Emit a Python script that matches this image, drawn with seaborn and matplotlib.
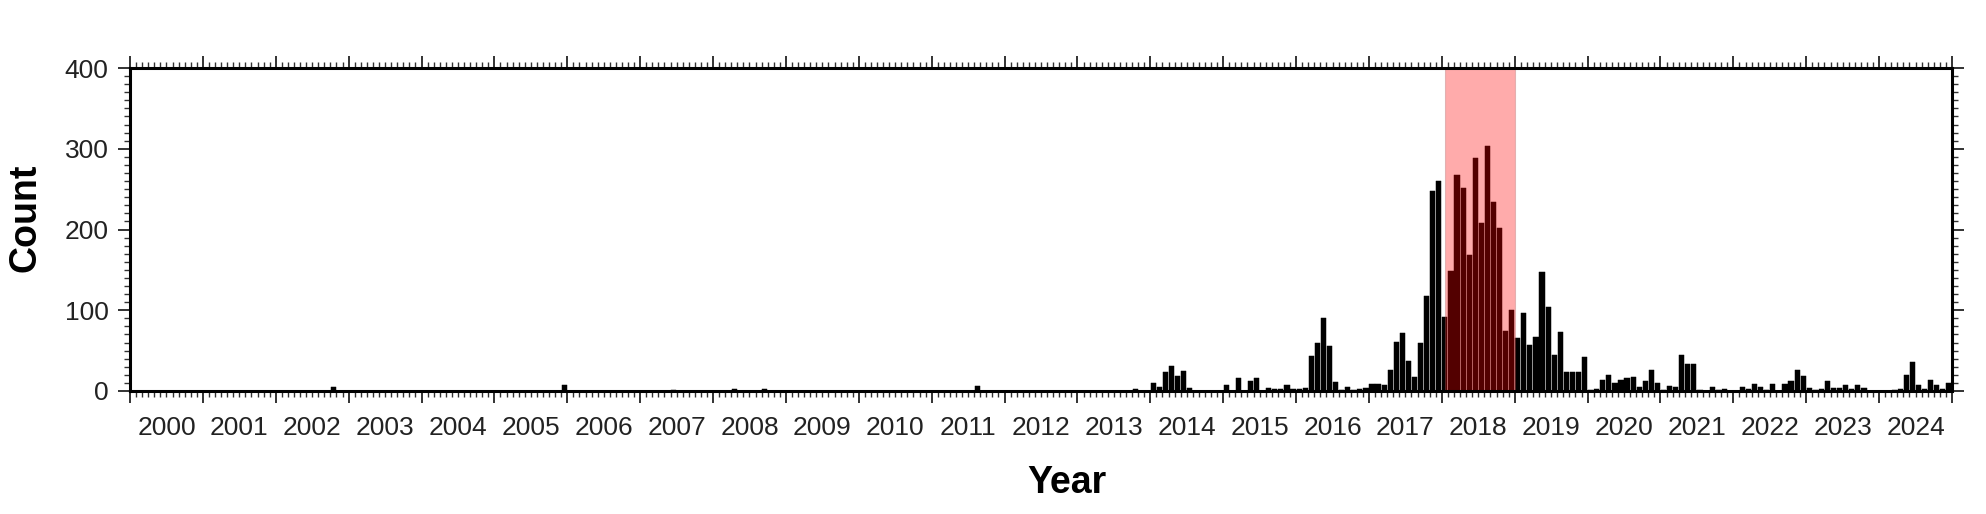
import numpy as np
import pandas as pd
import matplotlib
matplotlib.use("Agg")
import matplotlib.pyplot as plt
from matplotlib.ticker import MultipleLocator, NullLocator
import seaborn as sns

# ---------------- data: monthly counts (Jan..Dec) ----------------
years = list(range(2000, 2025))
c2000 = [0, 0, 0, 0, 0, 0, 0, 0, 0, 0, 0, 0]
c2001 = [0, 0, 0, 0, 0, 0, 0, 0, 0, 0, 0, 0]
c2002 = [0, 0, 0, 0, 0, 0, 0, 0, 0, 5, 0, 0]
c2003 = [0, 0, 0, 0, 0, 0, 0, 0, 0, 0, 0, 0]
c2004 = [0, 0, 0, 0, 0, 0, 0, 0, 0, 0, 0, 0]
c2005 = [0, 0, 0, 0, 0, 0, 0, 0, 0, 0, 0, 8]
c2006 = [0, 0, 0, 0, 0, 0, 0, 0, 0, 0, 0, 0]
c2007 = [0, 0, 0, 0, 0, 1, 0, 0, 0, 0, 0, 0]
c2008 = [0, 0, 0, 2, 0, 0, 0, 0, 3, 0, 0, 0]
c2009 = [0, 0, 0, 0, 0, 0, 0, 0, 0, 0, 0, 0]
c2010 = [0, 0, 0, 0, 0, 0, 0, 0, 0, 0, 0, 0]
c2011 = [0, 0, 0, 0, 0, 0, 0, 6, 0, 0, 0, 0]
c2012 = [0, 0, 0, 0, 0, 0, 0, 0, 0, 0, 0, 0]
c2013 = [0, 0, 0, 0, 0, 0, 0, 0, 0, 2, 0, 0]
c2014 = [10, 5, 23, 31, 18, 25, 4, 0, 0, 0, 0, 0]
c2015 = [7, 0, 16, 0, 12, 16, 0, 4, 2, 2, 7, 3]
c2016 = [2, 4, 43, 59, 90, 56, 11, 1, 5, 1, 2, 4]
c2017 = [9, 9, 7, 26, 61, 72, 37, 17, 59, 118, 248, 260]
c2018 = [92, 148, 267, 252, 169, 288, 208, 304, 234, 202, 74, 100]
c2019 = [66, 96, 57, 67, 147, 104, 45, 73, 24, 24, 24, 42]
c2020 = [1, 3, 14, 20, 10, 14, 16, 17, 5, 13, 26, 10]
c2021 = [1, 6, 5, 45, 34, 34, 1, 0, 5, 1, 2, 0]
c2022 = [0, 5, 3, 9, 5, 1, 9, 0, 9, 12, 26, 18]
c2023 = [4, 1, 2, 13, 4, 4, 7, 3, 8, 4, 0, 0]
c2024 = [0, 0, 1, 3, 20, 36, 7, 3, 14, 7, 3, 10]
year_labels = [str(y) for y in years]

highlight_start = 2018.05
highlight_end = 2019.0

all_counts = [c2000, c2001, c2002, c2003, c2004, c2005, c2006, c2007, c2008,
              c2009, c2010, c2011, c2012, c2013, c2014, c2015, c2016, c2017,
              c2018, c2019, c2020, c2021, c2022, c2023, c2024]

rows = []
for y, vals in zip(years, all_counts):
    for m, v in enumerate(vals):
        rows.append({"t": round(y + (m + 0.5) / 12.0, 6), "count": v})
df = pd.DataFrame(rows)

# ---------------- style ----------------
sns.set_theme(style="white")
plt.rcParams["font.family"] = ["Liberation Sans", "DejaVu Sans"]

fig = plt.figure(figsize=(19.86, 5.14), dpi=100)
ax = fig.add_axes([130 / 1986, 1 - 391 / 514, (1952 - 130) / 1986, (391 - 68) / 514])

sns.barplot(data=df, x="t", y="count", native_scale=True, color="black",
            saturation=1, width=0.85, edgecolor="black", linewidth=0.35,
            errorbar=None, ax=ax)

ax.axvspan(highlight_start, highlight_end, facecolor="#ff0000", alpha=0.33,
           edgecolor="#aa6666", lw=0.8, zorder=3)

ax.set_xlim(2000, 2025)
ax.set_ylim(0, 400)
ax.set_yticks([0, 100, 200, 300, 400])
ax.xaxis.set_major_locator(MultipleLocator(1))
ax.xaxis.set_minor_locator(MultipleLocator(1 / 12))
ax.yaxis.set_minor_locator(MultipleLocator(10))

for s in ax.spines.values():
    s.set_visible(True)
    s.set_linewidth(2.2)
    s.set_color("black")
    s.set_zorder(4)

ax.tick_params(which="both", direction="out", top=True, right=True,
               bottom=True, left=True, labeltop=False, labelright=False,
               labelbottom=False, color="#333333")
ax.tick_params(which="major", length=8.5, width=1.4)
ax.tick_params(which="minor", length=4.5, width=1.0)
ax.tick_params(axis="y", labelsize=19, pad=7, labelcolor="#222222")

ax.set_xlabel("Year", fontsize=27, fontweight="bold", color="black")
ax.xaxis.label.set(va="center", ha="center")
ax.xaxis.set_label_coords(0.5143, -0.285)
ax.set_ylabel("Count", fontsize=27, fontweight="bold", color="black")
ax.yaxis.label.set(va="center", ha="center", rotation_mode="anchor")
ax.yaxis.set_label_coords(-0.0571, 0.535)

sec = ax.secondary_xaxis("bottom")
sec.set_xticks([y + 0.5 for y in years], year_labels)
sec.xaxis.set_minor_locator(NullLocator())
sec.tick_params(length=0, pad=18, labelsize=19, labelcolor="#222222")
sec.spines["bottom"].set_visible(False)

fig.savefig("out.png", dpi=100, facecolor="white")
